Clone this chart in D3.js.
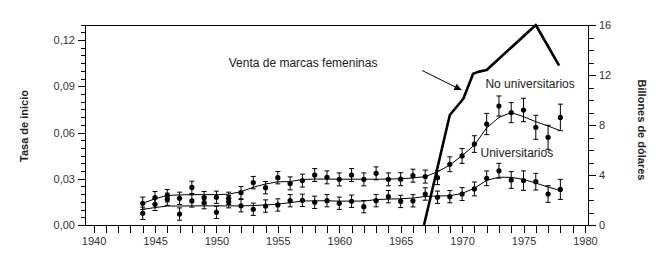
<!DOCTYPE html>
<html><head><meta charset="utf-8">
<script src="https://cdn.jsdelivr.net/npm/d3@7"></script>
<style>
body{margin:0;background:#fff;}
svg{display:block;font-family:"Liberation Sans",Arial,sans-serif;}
</style></head>
<body>
<svg id="chart" width="660" height="255"></svg>
<script>
// ---- Data ----
const years = d3.range(1944, 1979);
const noUnivRate = [0.0141,0.0177,0.0190,0.0173,0.0244,0.0177,0.0180,0.0173,0.0210,0.0275,0.0242,0.0307,
  0.0270,0.0288,0.0324,0.0309,0.0296,0.0324,0.0296,0.0335,0.0296,0.0297,0.0320,0.0314,0.0307,0.0394,
  0.0448,0.0525,0.0655,0.0772,0.0729,0.0746,0.0634,0.0569,0.0698];
const noUnivErr = [0.004,0.004,0.004,0.004,0.004,0.004,0.004,0.004,0.004,0.004,0.004,0.004,
  0.0042,0.0042,0.0042,0.0042,0.0042,0.0042,0.0042,0.0042,0.0042,0.0042,0.0042,0.0042,0.0045,0.0048,
  0.0048,0.0054,0.0069,0.0065,0.0065,0.0076,0.0078,0.0078,0.0086];
const noUnivFit = [0.0141,0.0170,0.0192,0.0195,0.0197,0.0197,0.0197,0.0200,0.0216,0.0245,0.0266,0.0280,
  0.0282,0.0295,0.0298,0.0298,0.0297,0.0297,0.0297,0.0297,0.0298,0.0300,0.0305,0.0314,0.0345,0.0389,
  0.0450,0.0519,0.0630,0.0698,0.0729,0.0703,0.0670,0.0642,0.0612];
const univRate = [0.0076,0.0134,0.0167,0.0071,0.0156,0.0145,0.0082,0.0151,0.0125,0.0102,0.0123,0.0130,
  0.0158,0.0160,0.0147,0.0158,0.0141,0.0154,0.0119,0.0158,0.0184,0.0153,0.0157,0.0201,0.0180,0.0184,
  0.0201,0.0234,0.0303,0.0352,0.0292,0.0288,0.0281,0.0201,0.0231];
const univErr = [0.004,0.004,0.004,0.004,0.004,0.004,0.004,0.004,0.004,0.004,0.004,0.004,
  0.004,0.004,0.004,0.004,0.004,0.004,0.004,0.004,0.004,0.004,0.004,0.004,0.004,0.004,
  0.0042,0.0045,0.0048,0.0048,0.0054,0.0063,0.0054,0.0054,0.0065];
const univFit = [0.0102,0.0113,0.0123,0.0123,0.0124,0.0124,0.0124,0.0124,0.0124,0.0126,0.0130,0.0135,
  0.0145,0.0155,0.0157,0.0157,0.0155,0.0155,0.0155,0.0165,0.0168,0.0170,0.0175,0.0185,0.0188,0.0190,
  0.0205,0.0238,0.0290,0.0310,0.0309,0.0296,0.0272,0.0246,0.0224];
const salesYears = [1966.9,1969,1970.1,1970.9,1971.3,1972,1976,1977.9];
const salesValues = [0,8.8,10.1,12.1,12.25,12.4,16,12.75];
const leftTicks = [0,0.03,0.06,0.09,0.12];
const rightTicks = [0,4,8,12,16];
const xTicks = [1940,1945,1950,1955,1960,1965,1970,1975,1980];

// ---- Layout ----
const svg = d3.select("#chart");
const x = d3.scaleLinear().domain([1939.3,1980.25]).range([85,588]);
const yL = d3.scaleLinear().domain([0,0.13]).range([225,24.6]);
const yR = d3.scaleLinear().domain([0,16]).range([225,25]);
const fmt = d => d3.format(".2f")(d).replace(".", ",");

// frame top
svg.append("line").attr("x1",85).attr("x2",588).attr("y1",25).attr("y2",25)
  .attr("stroke","#000").attr("stroke-width",1).attr("shape-rendering","crispEdges");

// left axis
const gL = svg.append("g").attr("transform","translate(85,0)");
gL.call(d3.axisLeft(yL).tickValues(d3.range(0,0.1301,0.005)).tickSize(4).tickFormat(""));
gL.append("g").call(d3.axisLeft(yL).tickValues(leftTicks).tickSize(7).tickPadding(3).tickFormat(fmt));
gL.selectAll(".domain").remove();
svg.append("line").attr("x1",85).attr("x2",85).attr("y1",25).attr("y2",225).attr("stroke","#000").attr("shape-rendering","crispEdges");

// right axis
const gR = svg.append("g").attr("transform","translate(588,0)");
gR.call(d3.axisRight(yR).tickValues(d3.range(0,17,1)).tickSize(6).tickFormat(""));
gR.append("g").call(d3.axisRight(yR).tickValues(rightTicks).tickSize(8).tickPadding(3).tickFormat(d=>d));
gR.selectAll(".domain").remove();
svg.append("line").attr("x1",588).attr("x2",588).attr("y1",25).attr("y2",225).attr("stroke","#000").attr("shape-rendering","crispEdges");

// bottom axis
const gB = svg.append("g").attr("transform","translate(0,225)");
gB.call(d3.axisBottom(x).tickValues(d3.range(1940,1981,1)).tickSize(8).tickFormat(""));
gB.append("g").call(d3.axisBottom(x).tickValues(xTicks).tickSize(8).tickPadding(4).tickFormat(d=>d));
gB.selectAll(".domain").remove();
svg.append("line").attr("x1",85).attr("x2",588).attr("y1",225).attr("y2",225).attr("stroke","#000").attr("shape-rendering","crispEdges");

svg.selectAll(".tick text").attr("font-size",11).attr("fill","#333").attr("font-family","'Liberation Sans',Arial,sans-serif");
svg.selectAll(".tick line").attr("shape-rendering","crispEdges");

// axis titles
svg.append("text").attr("transform","translate(28,126) rotate(-90)").attr("text-anchor","middle")
  .attr("font-size",11).attr("font-weight","bold").attr("fill","#222").text("Tasa de inicio");
svg.append("text").attr("transform","translate(638,130) rotate(90)").attr("text-anchor","middle")
  .attr("font-size",11).attr("font-weight","bold").attr("fill","#222").text("Billones de dólares");

// series
function drawSeries(vals, errs, fit){
  const g = svg.append("g");
  g.append("path").datum(years.map((yr,i)=>[yr,fit[i]]))
    .attr("fill","none").attr("stroke","#000").attr("stroke-width",1)
    .attr("d", d3.line().x(d=>x(d[0])).y(d=>yL(d[1])));
  const pts = years.map((yr,i)=>({yr, v:vals[i], e:errs[i]}));
  const eb = g.selectAll("g.eb").data(pts).enter().append("g");
  eb.append("line").attr("x1",d=>x(d.yr)).attr("x2",d=>x(d.yr))
    .attr("y1",d=>yL(d.v-d.e)).attr("y2",d=>yL(d.v+d.e)).attr("stroke","#000").attr("stroke-width",1);
  [-1,1].forEach(s=>{
    eb.append("line").attr("x1",d=>x(d.yr)-2.5).attr("x2",d=>x(d.yr)+2.5)
      .attr("y1",d=>yL(d.v+s*d.e)).attr("y2",d=>yL(d.v+s*d.e)).attr("stroke","#000").attr("stroke-width",1);
  });
  eb.append("circle").attr("cx",d=>x(d.yr)).attr("cy",d=>yL(d.v)).attr("r",2.6).attr("fill","#000");
}
drawSeries(noUnivRate, noUnivErr, noUnivFit);
drawSeries(univRate, univErr, univFit);

// sales line
svg.append("path").datum(salesYears.map((yr,i)=>[yr,salesValues[i]]))
  .attr("fill","none").attr("stroke","#000").attr("stroke-width",2.6).attr("stroke-linejoin","round")
  .attr("d", d3.line().x(d=>x(d[0])).y(d=>yR(d[1])));

// annotations
svg.append("text").attr("x",x(1951.0)).attr("y",yR(12.65)).attr("font-size",12).attr("fill","#222")
  .text("Venta de marcas femeninas");
svg.append("text").attr("x",x(1971.9)).attr("y",yL(0.0889)).attr("font-size",12).attr("fill","#222")
  .text("No universitarios");
svg.append("text").attr("x",x(1971.5)).attr("y",yL(0.0441)).attr("font-size",12).attr("fill","#222")
  .text("Universitarios");

// arrow
const defs = svg.append("defs");
defs.append("marker").attr("id","ah").attr("viewBox","0 0 10 10").attr("refX",10).attr("refY",5)
  .attr("markerWidth",9).attr("markerHeight",7).attr("markerUnits","userSpaceOnUse").attr("orient","auto")
  .append("path").attr("d","M0,0 L10,5 L0,10 z").attr("fill","#000");
svg.append("line").attr("x1",x(1966.75)).attr("y1",yR(12.36)).attr("x2",x(1969.95)).attr("y2",yR(10.8))
  .attr("stroke","#000").attr("stroke-width",1).attr("marker-end","url(#ah)");
</script>
</body></html>
